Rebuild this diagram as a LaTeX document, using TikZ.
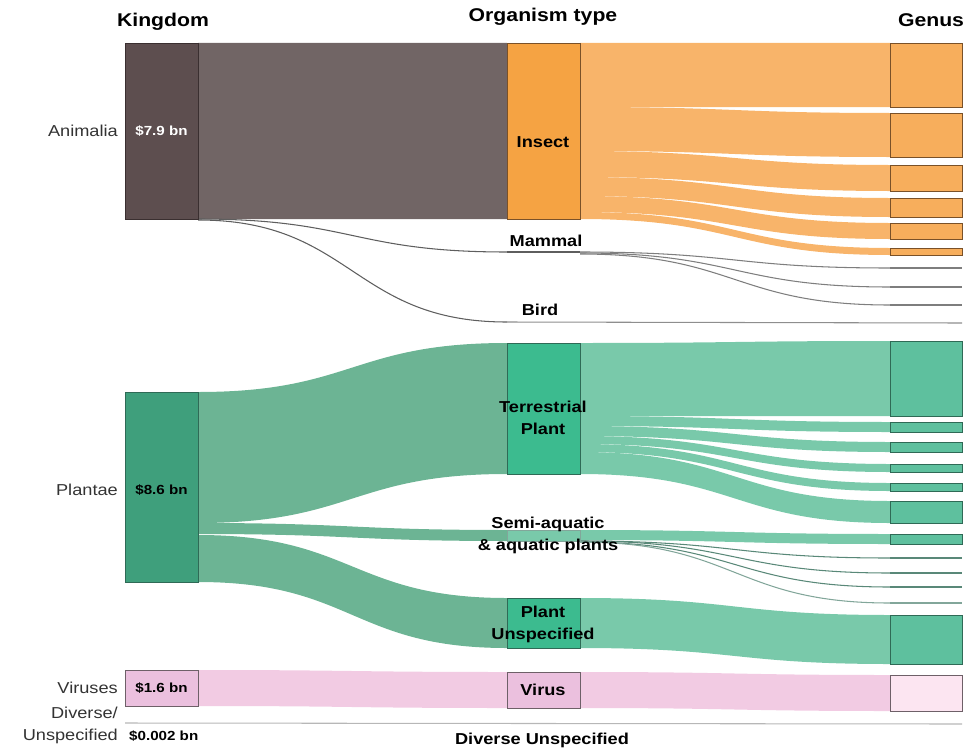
\documentclass[tikz,border=0pt]{standalone}
\usepackage{fontspec}
\setmainfont{Liberation Sans}[FakeStretch=1.15]
\usetikzlibrary{positioning}
\definecolor{anibox}{HTML}{5D4E4F}
\definecolor{aniband}{HTML}{716565}
\definecolor{aniline}{HTML}{3A2F30}
\definecolor{insbox}{HTML}{F5A343}
\definecolor{insband}{HTML}{F8B46A}
\definecolor{insgen}{HTML}{F7AE5C}
\definecolor{insline}{HTML}{7A5128}
\definecolor{plabox}{HTML}{3F9F7C}
\definecolor{plaband}{HTML}{6CB494}
\definecolor{terbox}{HTML}{3CBB8F}
\definecolor{terband}{HTML}{79C9AA}
\definecolor{tergen}{HTML}{5EC09E}
\definecolor{plaline}{HTML}{2F6A56}
\definecolor{virbox}{HTML}{EBC0DE}
\definecolor{virband}{HTML}{F2CBE3}
\definecolor{virgen}{HTML}{FCE5F1}
\definecolor{virline}{HTML}{6E6068}
\definecolor{thread}{HTML}{5E5E5E}
\definecolor{sidetext}{HTML}{333333}

% one flow band, colour / x1 / top1 / bottom1 / x2 / top2 / bottom2
\newcommand{\band}[7]{\fill[#1] (#2,#3) .. controls ({(#2+#5)/2},#3) and ({(#2+#5)/2},#6) .. (#5,#6) -- (#5,#7) .. controls ({(#2+#5)/2},#7) and ({(#2+#5)/2},#4) .. (#2,#4) -- cycle;}
% one thin flow, style / x1 / y1 / x2 / y2
\newcommand{\thread}[5]{\draw[#1] (#2,#3) .. controls ({(#2+#4)/2},#3) and ({(#2+#4)/2},#5) .. (#4,#5);}

\begin{document}
\begin{tikzpicture}[x=0.02cm,y=-0.02cm,
  box/.style={draw=#1,line width=0.5pt,inner sep=0pt,outer sep=0pt,anchor=north west},
  thin/.style={draw=thread,line width=0.6pt},
  head/.style={font=\bfseries\fontsize{10.5}{12}\selectfont},
  tag/.style={font=\bfseries\fontsize{9}{12.5}\selectfont,align=center},
  side/.style={font=\fontsize{9}{12.5}\selectfont,text=sidetext},
  val/.style={font=\bfseries\fontsize{7.5}{9}\selectfont}]
\useasboundingbox (0,0) rectangle (969,750);

% kingdom -> organism type
\band{aniband}{198}{43}{219}{507}{43}{219}
\band{plaband}{198}{392}{523}{507}{343}{474}
\band{plaband}{198}{523}{534}{507}{530}{541}
\band{plaband}{198}{535}{582}{507}{598}{648}
\band{virband}{198}{670}{706}{507}{672}{708}
\thread{thin}{198}{219}{507}{252}
\thread{thin}{198}{220}{507}{322}

% organism type -> genus
\band{insband}{580}{43}{107}{890}{43}{107}
\band{insband}{580}{107}{151}{890}{113}{157}
\band{insband}{580}{151}{177}{890}{165}{191}
\band{insband}{580}{177}{196}{890}{198}{217}
\band{insband}{580}{196}{212}{890}{223}{239}
\band{insband}{580}{212}{219}{890}{248}{255}
\band{terband}{580}{343}{416}{890}{341}{416}
\band{terband}{580}{416}{426}{890}{422}{432}
\band{terband}{580}{426}{436}{890}{442}{452}
\band{terband}{580}{436}{444}{890}{464}{472}
\band{terband}{580}{444}{452}{890}{483}{491}
\band{terband}{580}{452}{474}{890}{501}{523}
\band{terband}{580}{530}{540}{890}{534}{544}
\band{terband}{580}{598}{648}{890}{615}{664}
\band{virband}{580}{672}{708}{890}{675}{711}

% mammal, bird and the thin genera
\draw[thin] (507,252) -- (580,252);
\thread{thin,draw=thread!80}{580}{252}{890}{268}
\thread{thin,draw=thread!80}{580}{253}{890}{287}
\thread{thin,draw=thread!80}{580}{254}{890}{305}
\draw[thin,draw=thread!80] (890,268) -- (962,268) (890,287) -- (962,287) (890,305) -- (962,305);
\draw[thin,draw=thread!70] (507,322) -- (962,323);
\thread{thin,draw=plaline!80}{580}{541}{890}{558}
\thread{thin,draw=plaline!80}{580}{541}{890}{573}
\thread{thin,draw=plaline!80}{580}{542}{890}{587}
\thread{thin,draw=plaline!60}{580}{542}{890}{603}
\draw[thin,draw=plaline!80] (890,558) -- (962,558) (890,573) -- (962,573) (890,587) -- (962,587);
\draw[thin,draw=plaline!60] (890,603) -- (962,603);
\draw[thin,draw=thread!45] (125,723) -- (962,724);

% kingdom
\node[box=aniline,fill=anibox,minimum width=1.46cm,minimum height=3.52cm] (ani) at (125,43) {};
\node[box=plaline,fill=plabox,minimum width=1.46cm,minimum height=3.80cm] (pla) at (125,392) {};
\node[box=virline,fill=virbox,minimum width=1.46cm,minimum height=0.72cm] (vir) at (125,670) {};

% organism type
\node[box=insline,fill=insbox,minimum width=1.46cm,minimum height=3.52cm] (ins) at (507,43) {};
\node[box=plaline,fill=terbox,minimum width=1.46cm,minimum height=2.62cm] (ter) at (507,343) {};
\node[box=plaline!60,fill=terband,minimum width=1.46cm,minimum height=0.22cm] (semi) at (507,530) {};
\node[box=plaline,fill=terbox,minimum width=1.46cm,minimum height=1.00cm] (punk) at (507,598) {};
\node[box=virline,fill=virbox,minimum width=1.46cm,minimum height=0.72cm] (virus) at (507,672) {};

% genus
\node[box=insline,fill=insgen,minimum width=1.44cm,minimum height=1.28cm] (gi1) at (890,43) {};
\node[box=insline,fill=insgen,minimum width=1.44cm,minimum height=0.88cm] (gi2) at (890,113) {};
\node[box=insline,fill=insgen,minimum width=1.44cm,minimum height=0.52cm] (gi3) at (890,165) {};
\node[box=insline,fill=insgen,minimum width=1.44cm,minimum height=0.38cm] (gi4) at (890,198) {};
\node[box=insline,fill=insgen,minimum width=1.44cm,minimum height=0.32cm] (gi5) at (890,223) {};
\node[box=insline,fill=insgen,minimum width=1.44cm,minimum height=0.14cm] (gi6) at (890,248) {};
\node[box=plaline,fill=tergen,minimum width=1.44cm,minimum height=1.50cm] (gt1) at (890,341) {};
\node[box=plaline,fill=tergen,minimum width=1.44cm,minimum height=0.20cm] (gt2) at (890,422) {};
\node[box=plaline,fill=tergen,minimum width=1.44cm,minimum height=0.20cm] (gt3) at (890,442) {};
\node[box=plaline,fill=tergen,minimum width=1.44cm,minimum height=0.16cm] (gt4) at (890,464) {};
\node[box=plaline,fill=tergen,minimum width=1.44cm,minimum height=0.16cm] (gt5) at (890,483) {};
\node[box=plaline,fill=tergen,minimum width=1.44cm,minimum height=0.44cm] (gt6) at (890,501) {};
\node[box=plaline,fill=tergen,minimum width=1.44cm,minimum height=0.20cm] (ga1) at (890,534) {};
\node[box=plaline,fill=tergen,minimum width=1.44cm,minimum height=0.98cm] (gp1) at (890,615) {};
\node[box=virline,fill=virgen,minimum width=1.44cm,minimum height=0.72cm] (gv1) at (890,675) {};

% texts
\node[head] at (163,22) {Kingdom};
\node[head] at (543,17) {Organism type};
\node[head] at (931,20) {Genus};
\node[side,left=0.02cm of ani] {Animalia};
\node[side,left=0.02cm of pla,yshift=-0.06cm] {Plantae};
\node[side,left=0.02cm of vir] {Viruses};
\node[side,anchor=east,align=right] at (124,725) {Diverse/\\Unspecified};
\node[val,text=white] at (ani) {\$7.9 bn};
\node[val] at ([yshift=-0.06cm]pla.center) {\$8.6 bn};
\node[val] at (vir) {\$1.6 bn};
\node[val,anchor=west] at (123,736) {\$0.002 bn};
\node[tag] at (543,142) {Insect};
\node[tag] at (546,241) {Mammal};
\node[tag] at (540,310) {Bird};
\node[tag] at (543,418) {Terrestrial\\Plant};
\node[tag] at (548,535) {Semi-aquatic\\\& aquatic plants};
\node[tag] at (543,624) {Plant\\Unspecified};
\node[tag] at (543,690) {Virus};
\node[tag] at (542,740) {Diverse Unspecified};
\end{tikzpicture}
\end{document}
